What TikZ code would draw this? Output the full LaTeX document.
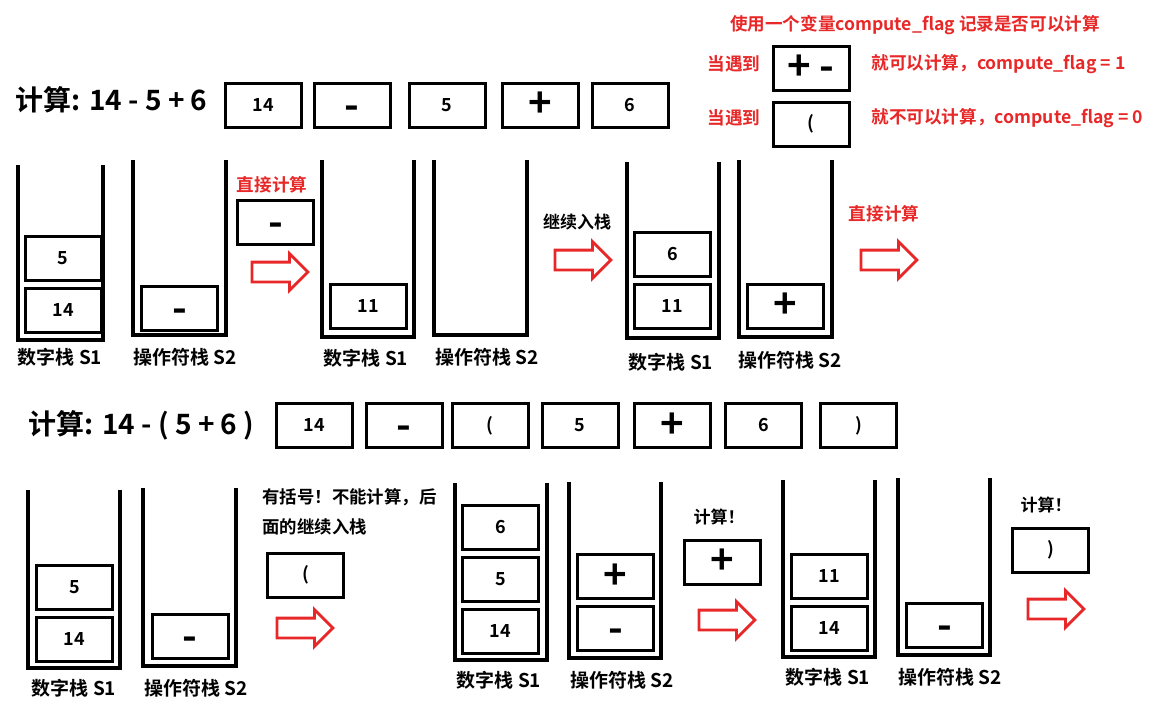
\documentclass[tikz,border=0pt]{standalone}
\usepackage{fontspec}
\setmainfont{Noto Sans CJK SC}[BoldFont={Noto Sans CJK SC Bold}]
\usetikzlibrary{shapes.arrows}
\definecolor{notered}{RGB}{232,40,40}
\tikzstyle{cell} = [rectangle, draw=black, line width=3pt, minimum width=76pt, minimum height=44pt, inner sep=0pt, text centered, font=\bfseries\fontsize{18}{18}\selectfont]
\tikzstyle{opcell} = [cell, font=\bfseries\fontsize{40}{40}\selectfont]
\tikzstyle{opminus} = [opcell, text height=28pt, text depth=0pt]
\tikzstyle{wall} = [line width=4pt]
\tikzstyle{caption} = [font=\bfseries\fontsize{19}{19}\selectfont]
\tikzstyle{formula} = [anchor=west, font=\bfseries\fontsize{28}{28}\selectfont]
\tikzstyle{note} = [font=\bfseries\fontsize{17}{17}\selectfont]
\tikzstyle{rednote} = [note, text=notered, font=\bfseries\fontsize{17.6}{17.6}\selectfont]
\tikzstyle{push} = [single arrow, draw=notered, line width=2.8pt, minimum height=56pt, inner xsep=0pt, inner ysep=8.5pt, text height=0pt, text depth=0pt, single arrow head extend=8.5pt]

\begin{document}
\begin{tikzpicture}[x=1pt, y=-1pt, node distance=52pt]
            \useasboundingbox (0,0) rectangle (1163,702);

            % first expression
            \node (expr_a) [formula] at (12,100) {计算: 14 - 5 + 6};
            \node (a_14) [cell] at (263,105) {14};
            \node (a_minus) [opminus] at (352,105) {-};
            \node (a_5) [cell] at (447,105) {5};
            \node (a_plus) [opcell] at (540,105) {+};
            \node (a_6) [cell] at (630,105) {6};

            % compute_flag note
            \node (flag_note) [rednote] at (915,25) {使用一个变量compute\_flag 记录是否可以计算};
            \node (meet_pm) [rednote] at (734,64) {当遇到};
            \node (flag_pm) [opcell] at (811,68) {+ -};
            \node (flag_one) [rednote, anchor=west] at (868,64) {就可以计算，compute\_flag = 1};
            \node (meet_lp) [rednote] at (734,118) {当遇到};
            \node (flag_lp) [cell] at (811,124) {(};
            \node (flag_zero) [rednote, anchor=west] at (868,118) {就不可以计算，compute\_flag = 0};

            % step 1
            \draw [wall] (18,165) -- (18,340) -- (103,340) -- (103,165);
            \node (s1a_14) [cell] at (63,310.5) {14};
            \node (s1a_5) [cell, above of=s1a_14] {5};
            \node (s1a_name) [caption] at (60,357) {数字栈 S1};
            \draw [wall] (133,160) -- (133,335) -- (226,335) -- (226,160);
            \node (s2a_minus) [opminus] at (179.5,308) {-};
            \node (s2a_name) [caption] at (185,357) {操作符栈 S2};

            \node (calc_a) [rednote] at (272,185) {直接计算};
            \node (pop_a) [opminus] at (275.5,222) {-};
            \node (arrow_a) [push] at (275,272) {};

            % step 2
            \draw [wall] (322,160) -- (322,337) -- (414,337) -- (414,160);
            \node (s1b_11) [cell] at (368.5,306.5) {11};
            \node (s1b_name) [caption] at (366,358) {数字栈 S1};
            \draw [wall] (434,160) -- (434,335) -- (527,335) -- (527,160);
            \node (s2b_name) [caption] at (487,357) {操作符栈 S2};

            \node (go_on_b) [note] at (577,222) {继续入栈};
            \node (arrow_b) [push] at (578,260) {};

            % step 3
            \draw [wall] (627,162) -- (627,338) -- (719,338) -- (719,162);
            \node (s1c_11) [cell] at (672.5,306.5) {11};
            \node (s1c_6) [cell, above of=s1c_11] {6};
            \node (s1c_name) [caption] at (671,362) {数字栈 S1};
            \draw [wall] (739,160) -- (739,337) -- (832,337) -- (832,160);
            \node (s2c_plus) [opcell] at (785.5,306) {+};
            \node (s2c_name) [caption] at (790,360) {操作符栈 S2};

            \node (calc_c) [rednote] at (884,214) {直接计算};
            \node (arrow_c) [push] at (884,260) {};

            % second expression
            \node (expr_b) [formula] at (25,425) {计算: 14 - ( 5 + 6 )};
            \node (b_14) [cell] at (314.5,425.5) {14};
            \node (b_minus) [opminus] at (404,425.5) {-};
            \node (b_lp) [cell] at (490,425.5) {(};
            \node (b_5) [cell] at (580,425.5) {5};
            \node (b_plus) [opcell] at (672.5,425.5) {+};
            \node (b_6) [cell] at (763.5,425.5) {6};
            \node (b_rp) [cell] at (858.5,425.5) {)};

            % step 4
            \draw [wall] (28,490) -- (28,668) -- (120,668) -- (120,490);
            \node (s1d_14) [cell] at (74.5,639) {14};
            \node (s1d_5) [cell, above of=s1d_14] {5};
            \node (s1d_name) [caption] at (74,688) {数字栈 S1};
            \draw [wall] (143,488) -- (143,666) -- (236,666) -- (236,488);
            \node (s2d_minus) [opminus] at (190,636) {-};
            \node (s2d_name) [caption] at (196,688) {操作符栈 S2};

            \node (bracket_d) [note, anchor=north west, align=left, font=\bfseries\fontsize{17.4}{30}\selectfont] at (259,485) {有括号！不能计算，后\\面的继续入栈};
            \node (pop_d) [cell] at (305.5,575) {(};
            \node (arrow_d) [push] at (300,628) {};

            % step 5
            \draw [wall] (455,483) -- (455,660) -- (547,660) -- (547,483);
            \node (s1e_14) [cell] at (500.5,631) {14};
            \node (s1e_5) [cell, above of=s1e_14] {5};
            \node (s1e_6) [cell, above of=s1e_5] {6};
            \node (s1e_name) [caption] at (499,680) {数字栈 S1};
            \draw [wall] (569,482) -- (569,658) -- (661,658) -- (661,482);
            \node (s2e_minus) [opminus] at (615.5,628.5) {-};
            \node (s2e_plus) [opcell, above of=s2e_minus] {+};
            \node (s2e_name) [caption] at (622,680) {操作符栈 S2};

            \node (calc_e) [note] at (719,517) {计算！};
            \node (pop_e) [opcell] at (722,562) {+};
            \node (arrow_e) [push] at (722,620) {};

            % step 6
            \draw [wall] (783,480) -- (783,657) -- (875,657) -- (875,480);
            \node (s1f_14) [cell] at (829.5,628) {14};
            \node (s1f_11) [cell, above of=s1f_14] {11};
            \node (s1f_name) [caption] at (828,677) {数字栈 S1};
            \draw [wall] (898,478) -- (898,655) -- (990,655) -- (990,478);
            \node (s2f_minus) [opminus] at (944.5,625.5) {-};
            \node (s2f_name) [caption] at (950,677) {操作符栈 S2};

            \node (calc_f) [note] at (1046,505) {计算！};
            \node (pop_f) [cell] at (1050.5,550) {)};
            \node (arrow_f) [push] at (1051,609) {};
        \end{tikzpicture}
\end{document}
